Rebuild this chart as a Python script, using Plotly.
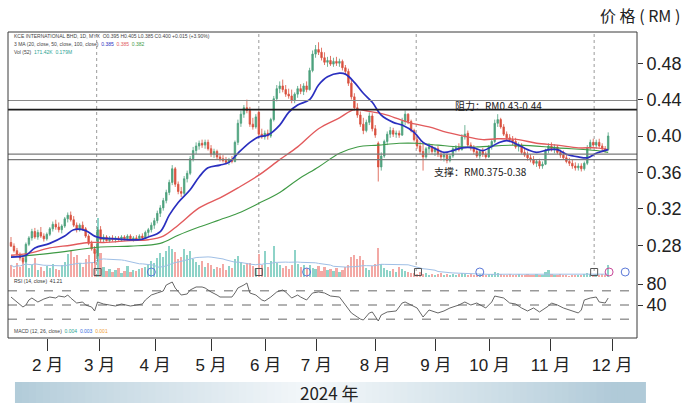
import plotly.graph_objects as go
import pandas as pd

# ---------------- data ----------------
opens = [
    .283, .279, .274, .270, .266, .262, .281, .288, .295, .289,
    .294, .290, .287, .292, .298, .303, .300, .297, .301, .309,
    .313, .308, .302, .297, .302, .298, .290, .282, .276, .268,
    .297, .286, .289, .285, .288, .286, .288, .286, .289, .287,
    .290, .286, .288, .287, .290, .288, .294, .297, .302, .307,
    .315, .321, .329, .338, .349, .364, .347, .339, .337, .353,
    .359, .375, .384, .389, .392, .390, .393, .386, .380, .383,
    .377, .375, .373, .371, .374, .372, .393, .414, .424, .431,
    .428, .413, .410, .426, .402, .399, .403, .400, .418, .441,
    .452, .455, .451, .446, .444, .439, .446, .452, .449, .455,
    .451, .472, .490, .495, .492, .486, .481, .483, .479, .482,
    .480, .482, .475, .471, .458, .443, .431, .423, .413, .406,
    .415, .422, .408, .392, .366, .378, .394, .402, .406, .402,
    .403, .401, .416, .424, .416, .406, .396, .389, .383, .377,
    .386, .388, .383, .386, .380, .377, .379, .373, .378, .386,
    .387, .385, .399, .403, .390, .387, .383, .378, .383, .380,
    .377, .388, .394, .414, .418, .410, .402, .398, .396, .394,
    .388, .390, .382, .379, .376, .374, .370, .372, .367, .369,
    .384, .389, .386, .388, .382, .379, .376, .372, .370, .367,
    .365, .367, .364, .370, .387, .393, .390, .393, .389, .386,
    .385]
highs = [
    .289, .282, .277, .272, .268, .283, .290, .298, .299, .297,
    .300, .293, .294, .300, .306, .308, .305, .303, .311, .316,
    .317, .312, .305, .304, .306, .300, .292, .285, .279, .300,
    .301, .292, .291, .290, .291, .290, .290, .291, .291, .292,
    .292, .290, .291, .292, .293, .296, .299, .305, .310, .318,
    .324, .332, .341, .352, .368, .366, .350, .344, .356, .362,
    .378, .388, .393, .395, .396, .396, .396, .390, .386, .385,
    .381, .379, .377, .376, .378, .395, .418, .428, .434, .440,
    .432, .420, .424, .428, .408, .406, .407, .420, .444, .456,
    .460, .462, .456, .452, .451, .448, .455, .457, .458, .460,
    .475, .494, .500, .503, .497, .492, .487, .488, .486, .487,
    .485, .484, .478, .474, .462, .447, .436, .427, .420, .418,
    .426, .425, .412, .394, .382, .396, .405, .410, .409, .406,
    .406, .420, .428, .425, .418, .408, .399, .394, .392, .388,
    .392, .391, .388, .389, .384, .382, .381, .380, .388, .390,
    .392, .402, .412, .406, .393, .390, .386, .385, .387, .383,
    .390, .396, .418, .424, .420, .413, .405, .402, .400, .398,
    .393, .392, .386, .383, .380, .378, .374, .375, .372, .386,
    .392, .393, .391, .390, .385, .384, .380, .376, .374, .371,
    .370, .370, .372, .390, .396, .397, .396, .397, .392, .389,
    .404]
lows = [
    .278, .272, .268, .263, .260, .261, .279, .285, .287, .286,
    .288, .284, .285, .290, .295, .297, .294, .293, .299, .305,
    .306, .300, .294, .295, .296, .288, .280, .274, .260, .262,
    .283, .283, .284, .283, .284, .283, .285, .284, .285, .285,
    .285, .284, .285, .285, .286, .287, .290, .294, .298, .304,
    .311, .318, .326, .335, .346, .344, .336, .333, .335, .349,
    .357, .372, .380, .385, .387, .386, .384, .377, .376, .374,
    .372, .371, .369, .368, .370, .371, .390, .410, .420, .425,
    .410, .407, .408, .400, .397, .396, .396, .398, .416, .438,
    .447, .448, .443, .441, .436, .436, .442, .446, .445, .448,
    .450, .470, .486, .489, .483, .478, .476, .477, .476, .477,
    .476, .472, .468, .455, .440, .428, .420, .410, .402, .404,
    .412, .405, .398, .350, .362, .376, .390, .398, .399, .398,
    .398, .400, .412, .413, .404, .394, .386, .380, .362, .375,
    .381, .380, .378, .377, .373, .372, .370, .371, .376, .382,
    .383, .384, .396, .388, .384, .380, .376, .375, .377, .375,
    .376, .385, .392, .410, .408, .400, .395, .393, .390, .386,
    .383, .380, .377, .373, .371, .368, .366, .364, .364, .368,
    .381, .383, .381, .380, .376, .374, .370, .367, .364, .362,
    .362, .361, .362, .368, .385, .388, .386, .387, .382, .382,
    .384]
closes = [
    .279, .274, .270, .266, .262, .281, .288, .295, .289, .294,
    .290, .287, .292, .298, .303, .300, .297, .301, .309, .313,
    .308, .302, .297, .302, .298, .290, .282, .276, .271, .297,
    .286, .289, .285, .288, .286, .288, .286, .289, .287, .290,
    .286, .288, .287, .290, .288, .294, .297, .302, .307, .315,
    .321, .329, .338, .349, .364, .347, .339, .337, .353, .359,
    .375, .384, .389, .392, .390, .393, .386, .380, .383, .377,
    .375, .373, .371, .374, .372, .393, .414, .424, .431, .428,
    .413, .410, .421, .402, .399, .403, .400, .418, .441, .452,
    .455, .451, .446, .444, .439, .446, .452, .449, .455, .451,
    .472, .490, .495, .492, .486, .481, .483, .479, .482, .480,
    .482, .475, .471, .458, .443, .431, .423, .413, .406, .415,
    .422, .408, .401, .366, .378, .394, .402, .406, .402, .403,
    .401, .416, .424, .416, .406, .396, .389, .383, .377, .386,
    .388, .383, .386, .380, .377, .379, .373, .378, .386, .387,
    .385, .399, .402, .390, .387, .383, .378, .383, .380, .377,
    .388, .394, .414, .418, .410, .402, .398, .396, .394, .388,
    .390, .382, .379, .376, .374, .370, .372, .367, .369, .384,
    .389, .386, .388, .382, .379, .376, .372, .370, .367, .365,
    .367, .364, .370, .387, .393, .390, .393, .389, .386, .385,
    .400]
# volume (relative units, 1 unit = 50K shares)
volume = [
    12, 8, 14, 10, 16, 18, 9, 12, 19, 7,
    10, 6, 11, 9, 13, 8, 7, 12, 15, 23,
    26, 20, 22, 14, 10, 18, 22, 15, 24, 59,
    24, 10, 6, 8, 5, 7, 9, 4, 6, 11,
    5, 7, 6, 8, 9, 10, 12, 16, 14, 19,
    24, 20, 26, 31, 28, 25, 18, 20, 28, 22,
    26, 18, 15, 12, 16, 10, 14, 12, 8, 10,
    9, 13, 7, 11, 9, 18, 21, 15, 12, 14,
    14, 11, 9, 23, 12, 26, 10, 16, 31, 14,
    12, 9, 11, 8, 12, 27, 13, 10, 12, 9,
    12, 9, 8, 11, 6, 10, 7, 8, 6, 9,
    5, 7, 10, 12, 20, 22, 18, 21, 17, 9,
    7, 11, 13, 29, 13, 9, 7, 6, 8, 5,
    10, 8, 6, 5, 4, 4, 3, 5, 3, 4,
    2, 3, 2, 3, 4, 2, 3, 2, 3, 2,
    3, 4, 3, 2, 3, 2, 2, 3, 2, 2,
    3, 3, 5, 4, 3, 2, 2, 3, 2, 2,
    3, 2, 2, 3, 2, 2, 3, 2, 2, 5,
    7, 3, 2, 2, 3, 2, 2, 1, 2, 2,
    2, 2, 3, 4, 3, 2, 3, 2, 3, 2,
    12]

# moving averages (bar index, price)
ma_fast_idx = [0, 5, 8, 13, 18, 21, 25, 28, 30, 35, 43, 46, 50, 53, 56, 60, 63, 66, 70, 73,
               76, 80, 83, 86, 90, 93, 96, 100, 103, 106, 110, 112, 115, 118, 121, 124, 128,
               131, 135, 138, 141, 145, 148, 151, 155, 158, 163, 166, 170, 173, 176, 180,
               183, 186, 190, 193, 196, 200]
ma_fast = [.267, .269, .277, .282, .290, .297, .296, .290, .288, .287, .286, .289, .295, .313,
           .327, .341, .355, .365, .368, .371, .381, .393, .399, .401, .412, .426, .434, .440,
           .456, .465, .469, .468, .459, .447, .437, .423, .415, .412, .404, .393, .388, .382,
           .384, .387, .387, .384, .392, .395, .390, .385, .382, .385, .385, .380, .377, .376,
           .381, .385]
ma_mid_idx = [0, 6, 13, 20, 26, 31, 40, 46, 51, 56, 63, 70, 76, 83, 90, 96, 103, 110, 115,
              120, 126, 133, 140, 146, 153, 158, 163, 170, 176, 183, 190, 196, 200]
ma_mid = [.269, .271, .277, .280, .283, .283, .285, .286, .290, .302, .321, .332, .343, .357,
          .374, .388, .408, .420, .429, .427, .423, .415, .410, .404, .399, .396, .397, .396,
          .392, .390, .387, .387, .385]
ma_slow_idx = [0, 13, 30, 40, 50, 56, 63, 70, 76, 83, 90, 96, 103, 110, 116, 123, 130, 136,
               143, 150, 156, 170, 183, 196, 200]
ma_slow = [.267, .271, .278, .279, .282, .291, .300, .308, .315, .326, .338, .352, .366, .381,
           .388, .390, .392, .392, .390, .388, .388, .390, .387, .384, .382]

# RSI (bar index, value on the panel's scale)
rsi_idx = [0, 2, 4, 5, 6, 7, 9, 11, 13, 15, 16, 18, 19, 20, 22, 24, 25, 27, 28, 29, 31, 33, 35,
           37, 40, 42, 44, 45, 47, 49, 51, 52, 54, 55, 57, 59, 60, 62, 64, 65, 67, 69, 70, 72,
           74, 75, 76, 78, 79, 80, 82, 84, 85, 87, 89, 91, 92, 94, 96, 97, 99, 101, 103, 105,
           107, 110, 112, 114, 116, 117, 118, 120, 121, 123, 124, 126, 129, 131, 132, 134,
           136, 138, 140, 143, 145, 147, 150, 152, 154, 156, 159, 161, 162, 165, 167, 169,
           171, 173, 175, 177, 180, 181, 183, 185, 187, 190, 191, 192, 194, 196, 197, 199, 200]
rsi = [55.2, 45.7, 36.2, 40, 49.5, 53.3, 45.7, 51.4, 55.2, 53.3, 57.1, 55.2, 59.0, 53.3, 43.8,
       45.7, 40, 36.2, 28.6, 45.7, 41.9, 40, 38.1, 41.9, 38.1, 40, 41.9, 49.5, 59.0, 62.9, 66.7,
       78.1, 83.8, 72.4, 59.0, 61.0, 68.6, 74.3, 74.3, 72.4, 64.8, 59.0, 55.2, 55.2, 55.2, 62.9,
       72.4, 78.1, 81.9, 62.9, 59.0, 49.5, 47.6, 55.2, 64.8, 68.6, 64.8, 53.3, 59.0, 55.2, 49.5,
       62.9, 64.8, 62.9, 57.1, 55.2, 40, 24.8, 17.1, 13.3, 11.4, 24.8, 26.7, 9.5, 21.0, 26.7,
       28.6, 43.8, 45.7, 40, 34.3, 17.1, 30.5, 24.8, 28.6, 34.3, 40, 45.7, 40, 43.8, 34.3, 45.7,
       57.1, 53.3, 43.8, 41.9, 34.3, 28.6, 34.3, 26.7, 38.1, 43.8, 40, 34.3, 30.5, 24.8, 30.5,
       49.5, 53.3, 55.2, 45.7, 43.8, 53.3]
rsi_levels = [67, 40, 13]

resistance = [0.439, 0.429]
support = [0.380, 0.374]

price_ticks = [0.28, 0.32, 0.36, 0.40, 0.44, 0.48]
rsi_ticks = [80, 40]
month_labels = ["2 月", "3 月", "4 月", "5 月", "6 月", "7 月", "8 月", "9 月", "10 月", "11 月", "12 月"]
month_pos = [12.3, 29.7, 48.3, 67, 85.3, 102.3, 122, 142.3, 160.3, 180.7, 201.3]
separators = [28.7, 83, 135.7, 195.3]
event_square = [29, 83, 136.3, 195.3]
event_circle = [47, 99, 157, 205.7]
event_pink = [200.3]

# ---------------- layout helpers ----------------
L, R, T, B = 8, 641, 32, 338
W, H = R - L, B - T


def py(y):
    return (B - y) / H


def pxx(x):
    return (x - L) / W


price_dom = [py(277), 1.0]
rsi_dom = [py(334), py(278)]
n = len(closes)
idx = list(range(n))

UP, DN = "#4ea27e", "#d9503f"
vol_colors = ["#8ed3c8" if c >= o else "#f3a9a5" for o, c in zip(opens, closes)]
vol_ma = pd.Series(volume).rolling(20, min_periods=1).mean()

FONT = "Liberation Sans, Arial, Noto Sans CJK SC, sans-serif"
CJK = "Noto Sans CJK SC, Liberation Sans, sans-serif"

fig = go.Figure()
fig.add_trace(go.Bar(x=idx, y=volume, marker_color=vol_colors, marker_line_width=0,
                     width=0.72, yaxis="y", hoverinfo="skip"))
fig.add_trace(go.Scatter(x=idx, y=vol_ma, yaxis="y", mode="lines",
                         line=dict(color="#9fbfe6", width=1)))
fig.add_trace(go.Scatter(x=event_square, y=[5] * len(event_square), yaxis="y", mode="markers",
                         marker=dict(symbol="square-open", size=7, color="#555", line=dict(width=1))))
fig.add_trace(go.Scatter(x=event_circle, y=[5] * len(event_circle), yaxis="y", mode="markers",
                         marker=dict(symbol="circle-open", size=8, color="#5a78d8", line=dict(width=1))))
fig.add_trace(go.Scatter(x=event_pink, y=[5] * len(event_pink), yaxis="y", mode="markers",
                         marker=dict(symbol="circle-open", size=8, color="#c84a9a", line=dict(width=1))))

fig.add_trace(go.Candlestick(x=idx, open=opens, high=highs, low=lows, close=closes, yaxis="y2",
                             increasing=dict(line=dict(color=UP, width=0.8), fillcolor=UP),
                             decreasing=dict(line=dict(color=DN, width=0.8), fillcolor=DN),
                             whiskerwidth=0))
fig.add_trace(go.Scatter(x=ma_slow_idx, y=ma_slow, yaxis="y2", mode="lines", line_shape="spline",
                         line=dict(color="#3f9a45", width=1.1)))
fig.add_trace(go.Scatter(x=ma_mid_idx, y=ma_mid, yaxis="y2", mode="lines", line_shape="spline",
                         line=dict(color="#e25a5c", width=1.4)))
fig.add_trace(go.Scatter(x=ma_fast_idx, y=ma_fast, yaxis="y2", mode="lines", line_shape="spline",
                         line=dict(color="#2a2fbf", width=1.7)))

fig.add_trace(go.Scatter(x=rsi_idx, y=rsi, yaxis="y3", mode="lines",
                         line=dict(color="#555", width=0.9)))

shapes = []
# separators
for s in separators:
    shapes.append(dict(type="line", xref="x", yref="paper", x0=s, x1=s, y0=price_dom[0], y1=1,
                       line=dict(color="#9a9a9a", width=1, dash="dot"), layer="below"))
# S/R lines
shapes.append(dict(type="line", xref="paper", yref="y2", x0=0, x1=1, y0=resistance[0], y1=resistance[0],
                   line=dict(color="#8a8a8a", width=1.1)))
shapes.append(dict(type="line", xref="paper", yref="y2", x0=0, x1=1, y0=resistance[1], y1=resistance[1],
                   line=dict(color="#1e1e1e", width=1.6)))
for s in support:
    shapes.append(dict(type="line", xref="paper", yref="y2", x0=0, x1=1, y0=s, y1=s,
                       line=dict(color="#7a7a7a", width=1.3)))
# RSI dashed levels
for lv in rsi_levels:
    shapes.append(dict(type="line", xref="paper", yref="y3", x0=0, x1=1, y0=lv, y1=lv,
                       line=dict(color="#555", width=0.9, dash="dash")))
# frame
shapes.append(dict(type="rect", xref="paper", yref="paper", x0=0, x1=1, y0=0, y1=1,
                   line=dict(color="#3a3a3a", width=1), fillcolor="rgba(0,0,0,0)"))
# gradient band
edge = (176, 202, 216)
mid = (244, 248, 250)
ns = 90
bx0, bx1 = pxx(15), pxx(650)
for k in range(ns):
    t = (k + 0.5) / ns
    w = max(0.0, 1 - abs(t - 0.47) * 2.1) ** 0.9
    c = tuple(int(round(e + (m - e) * w)) for e, m in zip(edge, mid))
    xa = bx0 + (bx1 - bx0) * k / ns
    xb = bx0 + (bx1 - bx0) * (k + 1) / ns + 0.0015
    shapes.append(dict(type="rect", xref="paper", yref="paper", x0=xa, x1=min(xb, bx1),
                       y0=py(403), y1=py(382), fillcolor="rgb(%d,%d,%d)" % c, line=dict(width=0)))

ann = []
ann.append(dict(xref="paper", yref="paper", x=pxx(686), y=py(15), xanchor="right", yanchor="middle",
                text="价 格 ( RM )", showarrow=False, font=dict(family=CJK, size=16, color="#222")))
ann.append(dict(xref="paper", yref="paper", x=pxx(332), y=py(392), xanchor="center", yanchor="middle",
                text="2024 年", showarrow=False, font=dict(family=CJK, size=17, color="#222")))
ann.append(dict(xref="x", yref="y2", x=148, y=0.4335, xanchor="left", yanchor="middle",
                text="阻力：RM0.43-0.44", showarrow=False, font=dict(family=CJK, size=10, color="#222")))
ann.append(dict(xref="x", yref="y2", x=141, y=0.3615, xanchor="left", yanchor="middle",
                text="支撑：RM0.375-0.38", showarrow=False, font=dict(family=CJK, size=10, color="#222")))
ann.append(dict(xref="paper", yref="paper", x=pxx(12), y=py(36), xanchor="left", yanchor="middle",
                text="KCE INTERNATIONAL BHD, 1D, MYX  O0.395 H0.405 L0.385 C0.400 +0.015 (+3.90%)",
                showarrow=False, font=dict(family=FONT, size=5, color="#444")))
ann.append(dict(xref="paper", yref="paper", x=pxx(12), y=py(44), xanchor="left", yanchor="middle",
                text="3 MA (20, close, 50, close, 100, close)  <span style='color:#2a2fbf'>0.385</span>"
                     "  <span style='color:#e25a5c'>0.385</span>  <span style='color:#3f9a45'>0.382</span>",
                showarrow=False, font=dict(family=FONT, size=5, color="#444")))
ann.append(dict(xref="paper", yref="paper", x=pxx(12), y=py(52), xanchor="left", yanchor="middle",
                text="Vol (52)  <span style='color:#2aa393'>171.42K  0.179M</span>",
                showarrow=False, font=dict(family=FONT, size=5, color="#444")))
ann.append(dict(xref="paper", yref="paper", x=pxx(12), y=py(281), xanchor="left", yanchor="middle",
                text="RSI (14, close)  41.21", showarrow=False,
                font=dict(family=FONT, size=5, color="#333")))
ann.append(dict(xref="paper", yref="paper", x=pxx(12), y=py(331), xanchor="left", yanchor="middle",
                text="MACD (12, 26, close)  <span style='color:#2aa393'>0.004</span>  "
                     "<span style='color:#3a6ee0'>0.003</span>  <span style='color:#f0a030'>0.001</span>",
                showarrow=False, font=dict(family=FONT, size=5, color="#444")))

fig.update_layout(
    width=690, height=411,
    margin=dict(l=L, r=690 - R, t=T, b=411 - B),
    paper_bgcolor="white", plot_bgcolor="white",
    showlegend=False, hovermode=False,
    bargap=0,
    xaxis=dict(domain=[0, 1], anchor="free", position=0, range=[-1, 209.65],
               showgrid=False, zeroline=False, showline=False, rangeslider=dict(visible=False),
               tickmode="array", tickvals=month_pos, ticktext=month_labels,
               ticks="outside", ticklen=12, tickwidth=1, tickcolor="#333",
               tickfont=dict(family=FONT, size=17, color="#222")),
    yaxis=dict(domain=price_dom, range=[0, 245], visible=False, fixedrange=True),
    yaxis2=dict(overlaying="y", anchor="x", side="right", range=[0.24505, 0.51429],
                showgrid=False, zeroline=False, showline=False,
                tickmode="array", tickvals=price_ticks, ticktext=["%.2f" % v for v in price_ticks],
                ticks="outside", ticklen=5, tickwidth=1, tickcolor="#333",
                tickfont=dict(family=FONT, size=18, color="#222")),
    yaxis3=dict(domain=rsi_dom, anchor="x", side="right", range=[-15.24, 91.43],
                showgrid=False, zeroline=False, showline=False,
                tickmode="array", tickvals=rsi_ticks, ticktext=[str(v) for v in rsi_ticks],
                ticks="outside", ticklen=5, tickwidth=1, tickcolor="#333",
                tickfont=dict(family=FONT, size=18, color="#222")),
    shapes=shapes,
    annotations=ann,
)

fig.write_html("out.html")
